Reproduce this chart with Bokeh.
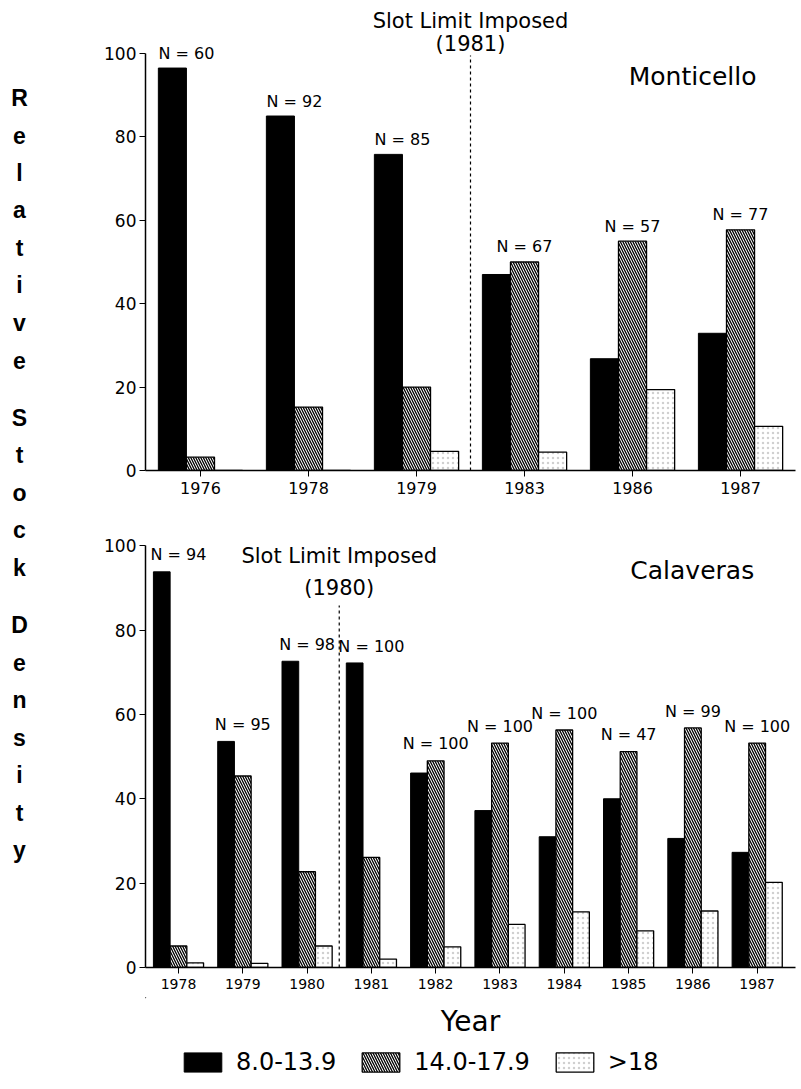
import numpy as np
from bokeh.plotting import figure
from bokeh.layouts import row, column
from bokeh.models import Range1d, FixedTicker, Legend, LegendItem
from bokeh.core.properties import value
from bokeh.embed import file_html
from bokeh.resources import INLINE

# ---------------- data ----------------
mont_years = ["1976", "1978", "1979", "1983", "1986", "1987"]
mont_small = [96.5, 85.0, 75.8, 47.0, 26.8, 32.9]    # 8.0-13.9
mont_mid = [3.2, 15.2, 20.0, 50.0, 55.0, 57.7]       # 14.0-17.9
mont_large = [0.0, 0.0, 4.6, 4.4, 19.4, 10.6]        # >18
mont_n = [60, 92, 85, 67, 57, 77]
mont_slot_year = 1981

cal_years = ["1978", "1979", "1980", "1981", "1982", "1983", "1984", "1985", "1986", "1987"]
cal_small = [93.8, 53.6, 72.6, 72.2, 46.1, 37.2, 31.0, 40.0, 30.6, 27.3]
cal_mid = [5.1, 45.4, 22.7, 26.1, 49.0, 53.2, 56.3, 51.2, 56.8, 53.2]
cal_large = [1.1, 1.0, 5.1, 2.0, 4.9, 10.2, 13.2, 8.7, 13.4, 20.2]
cal_n = [94, 95, 98, 100, 100, 100, 100, 47, 99, 100]
cal_slot_year = 1980

size_classes = ["8.0-13.9", "14.0-17.9", ">18"]
ylabel = "Relative Stock Density"
xlabel = "Year"

FNAME = "DejaVu Sans"
FONT = value(FNAME)
BW = 0.26
WIDTH = 741
BL, BR = 85, 6

BLACK = dict(fill_color="black", line_color="black", line_width=1)
HATCH = dict(fill_color="white", line_color="black", line_width=1.3,
             hatch_pattern="\\", hatch_color="black", hatch_scale=5, hatch_weight=1.3)
PLAIN = dict(fill_color="white", line_color="black", line_width=1.3,
             hatch_pattern=".", hatch_color="#d0d0d0", hatch_scale=5, hatch_weight=1)


def slot_position(years, slot_year):
    ys = [int(y) for y in years]
    for i in range(len(ys) - 1):
        if ys[i] <= slot_year < ys[i + 1]:
            return i + 0.5
    return len(ys) - 0.5


def style_axes(p, years, tick_font):
    p.grid.visible = False
    p.outline_line_color = None
    xa = p.xaxis[0]
    xa.ticker = FixedTicker(ticks=list(range(len(years))))
    xa.major_label_overrides = {i: y for i, y in enumerate(years)}
    xa.axis_line_width = 1.5
    xa.major_tick_in = 0
    xa.major_tick_out = 6
    xa.minor_tick_line_color = None
    xa.major_label_text_font = FNAME
    xa.major_label_text_font_size = tick_font
    xa.major_label_text_color = "black"
    xa.major_label_standoff = 5
    ya = p.yaxis[0]
    ya.ticker = FixedTicker(ticks=[0, 20, 40, 60, 80, 100])
    ya.bounds = (0, 100)
    ya.axis_line_width = 1.5
    ya.major_tick_in = 0
    ya.major_tick_out = 6
    ya.minor_tick_line_color = None
    ya.major_label_text_font = FNAME
    ya.major_label_text_font_size = "17px"
    ya.major_label_text_color = "black"
    ya.major_label_standoff = 3


def draw_bars(p, small, mid, large):
    x = np.arange(len(small))
    r1 = p.vbar(x=x - BW, top=small, width=BW, **BLACK)
    r2 = p.vbar(x=x, top=mid, width=BW, **HATCH)
    r3 = p.vbar(x=x + BW, top=large, width=BW, **PLAIN)
    return r1, r2, r3


def txt(p, x, y, s, size):
    p.text(x=[x], y=[y], text=[s], text_align="center", text_baseline="middle",
           text_font=FONT, text_font_size=size, text_color="black")


# ---------------- Monticello ----------------
p1 = figure(width=WIDTH, height=530, x_range=Range1d(-0.509, 5.509), y_range=Range1d(0, 111.5),
            output_backend="svg", toolbar_location=None,
            min_border_left=BL, min_border_right=BR, min_border_top=5, min_border_bottom=60)
style_axes(p1, mont_years, "16px")
draw_bars(p1, mont_small, mont_mid, mont_large)

xm = np.arange(len(mont_years))
tops = np.vstack([mont_small, mont_mid, mont_large])
tallest = tops.argmax(axis=0)
lab_x = xm + (tallest - 1) * BW / 2.0
p1.text(x=lab_x, y=tops.max(axis=0) + 3.6, text=[f"N = {n}" for n in mont_n],
        text_align="center", text_baseline="middle", text_font=FONT, text_font_size="16px")

sp1 = slot_position(mont_years, mont_slot_year)
p1.segment(x0=[sp1], y0=[0], x1=[sp1], y1=[99.5], line_dash="3 3", line_color="black", line_width=1.2)
txt(p1, sp1, 107.7, "Slot Limit Imposed", "21px")
txt(p1, sp1, 102.2, f"({mont_slot_year})", "21px")
txt(p1, 4.556, 94.5, "Monticello", "25px")

# ---------------- Calaveras ----------------
p2 = figure(width=WIDTH, height=467, x_range=Range1d(-0.513, 9.596), y_range=Range1d(0, 103.6),
            output_backend="svg", toolbar_location=None,
            min_border_left=BL, min_border_right=BR, min_border_top=0, min_border_bottom=30)
style_axes(p2, cal_years, "14px")
draw_bars(p2, cal_small, cal_mid, cal_large)

xc = np.arange(len(cal_years))
ctops = np.vstack([cal_small, cal_mid, cal_large]).max(axis=0)
p2.text(x=xc, y=ctops + 4.0, text=[f"N = {n}" for n in cal_n],
        text_align="center", text_baseline="middle", text_font=FONT, text_font_size="16px")

sp2 = slot_position(cal_years, cal_slot_year)
p2.segment(x0=[sp2], y0=[0], x1=[sp2], y1=[85.8], line_dash="3 3", line_color="black", line_width=1.2)
txt(p2, sp2, 97.6, "Slot Limit Imposed", "21px")
txt(p2, sp2, 90.0, f"({cal_slot_year})", "21px")
txt(p2, 7.99, 94.1, "Calaveras", "25px")

# ---------------- x label + legend strip (pixel coordinates) ----------------
p3 = figure(width=WIDTH, height=92, x_range=Range1d(145, 795), y_range=Range1d(1089, 997),
            output_backend="svg", toolbar_location=None,
            min_border_left=BL, min_border_right=BR, min_border_top=0, min_border_bottom=0)
p3.axis.visible = False
p3.grid.visible = False
p3.outline_line_color = None
txt(p3, 470, 1021, xlabel, "28px")
# legend proxies (far outside the visible range)
e1 = p3.vbar(x=[-1e5], top=[-1e5], bottom=[-1e5 - 1], width=1, **BLACK)
e2 = p3.vbar(x=[-1e5], top=[-1e5], bottom=[-1e5 - 1], width=1, **HATCH)
e3 = p3.vbar(x=[-1e5], top=[-1e5], bottom=[-1e5 - 1], width=1, **PLAIN)
legend = Legend(items=[LegendItem(label=size_classes[0], renderers=[e1]),
                       LegendItem(label=size_classes[1], renderers=[e2]),
                       LegendItem(label=size_classes[2], renderers=[e3])],
                orientation="horizontal", location=(34, 13),
                glyph_width=47, glyph_height=24, label_height=24,
                label_text_font=FNAME, label_text_font_size="24px", label_text_color="black",
                label_standoff=10, spacing=21, padding=0, margin=0,
                border_line_color=None, background_fill_alpha=0)
p3.add_layout(legend)

# ---------------- y label column ----------------
H = 1089
lab = figure(width=60, height=H, x_range=Range1d(0, 60), y_range=Range1d(H, 0),
             output_backend="svg", toolbar_location=None, min_border=0)
lab.axis.visible = False
lab.grid.visible = False
lab.outline_line_color = None
chars, ys = [], []
pos = 97.0
for w, word in enumerate(ylabel.split(" ")):
    if w > 0:
        pos += 20.0
    for ch in word:
        chars.append(ch)
        ys.append(pos)
        pos += 37.5
lab.text(x=[19] * len(chars), y=ys, text=chars, text_align="center", text_baseline="middle",
         text_font=value("Liberation Sans"), text_font_style="bold", text_font_size="23px")

layout = row(lab, column(p1, p2, p3))
open("out.html", "w").write(file_html(layout, INLINE))
